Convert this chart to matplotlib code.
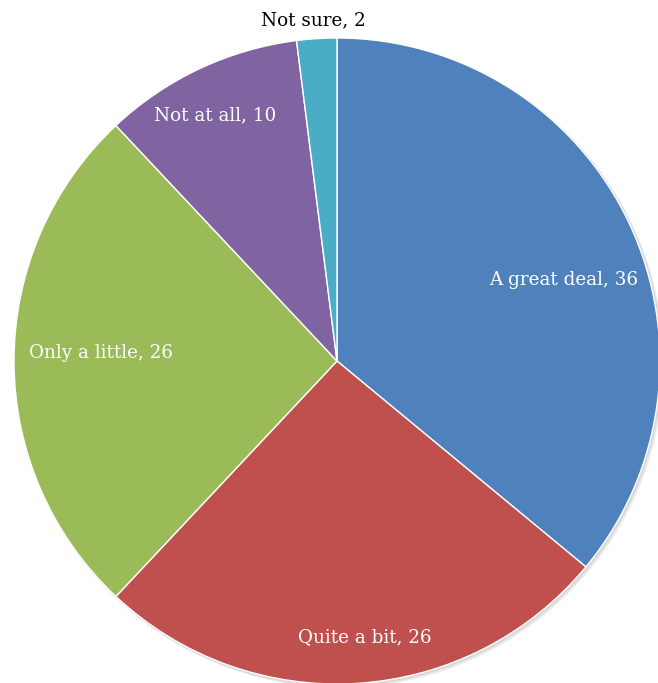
import numpy as np
import matplotlib.pyplot as plt
from matplotlib.patches import Circle

categories = ["A great deal", "Quite a bit", "Only a little", "Not at all", "Not sure"]
values = [36, 26, 26, 10, 2]
colors = ["#4F81BD", "#C0504D", "#9BBB59", "#8064A2", "#4BACC6"]
text_colors = ["white", "white", "white", "white", "black"]
# label placement: fraction of radius and angular nudge (degrees) per slice
label_radius = [0.746, 0.859, 0.73, 0.85, 1.058]
label_nudge = [-5.6, 2.2, -2, 1.2, 0.4]

W, H = 658, 683
fig = plt.figure(figsize=(W / 100, H / 100), dpi=100)
ax = fig.add_axes([0, 0, 1, 1])

cx, cy, r = 337, 322, 323

# soft shadow under the pie
for i, a in enumerate([0.05, 0.05, 0.06]):
    ax.add_patch(Circle((cx + 1 + i, cy - 1 - i), r + 1, color="#000000",
                        alpha=a, lw=0, zorder=0))

wedges, _ = ax.pie(values, colors=colors, startangle=90, counterclock=False,
                   center=(cx, cy), radius=r, frame=True,
                   wedgeprops=dict(edgecolor="white", linewidth=1.0))
ax.set_xlim(0, W)
ax.set_ylim(0, H)
ax.set_aspect("equal")
ax.axis("off")
for w in wedges:
    w.set_zorder(2)

for w, cat, v, tc, lr, nd in zip(wedges, categories, values, text_colors,
                                  label_radius, label_nudge):
    ang = np.deg2rad((w.theta1 + w.theta2) / 2 + nd)
    x = cx + lr * r * np.cos(ang)
    y = cy + lr * r * np.sin(ang)
    ax.text(x, y, f"{cat}, {v}", ha="center", va="center", color=tc,
            fontsize=13.2, family=["DejaVu Serif"], zorder=3)

fig.savefig("out.png", dpi=100)
